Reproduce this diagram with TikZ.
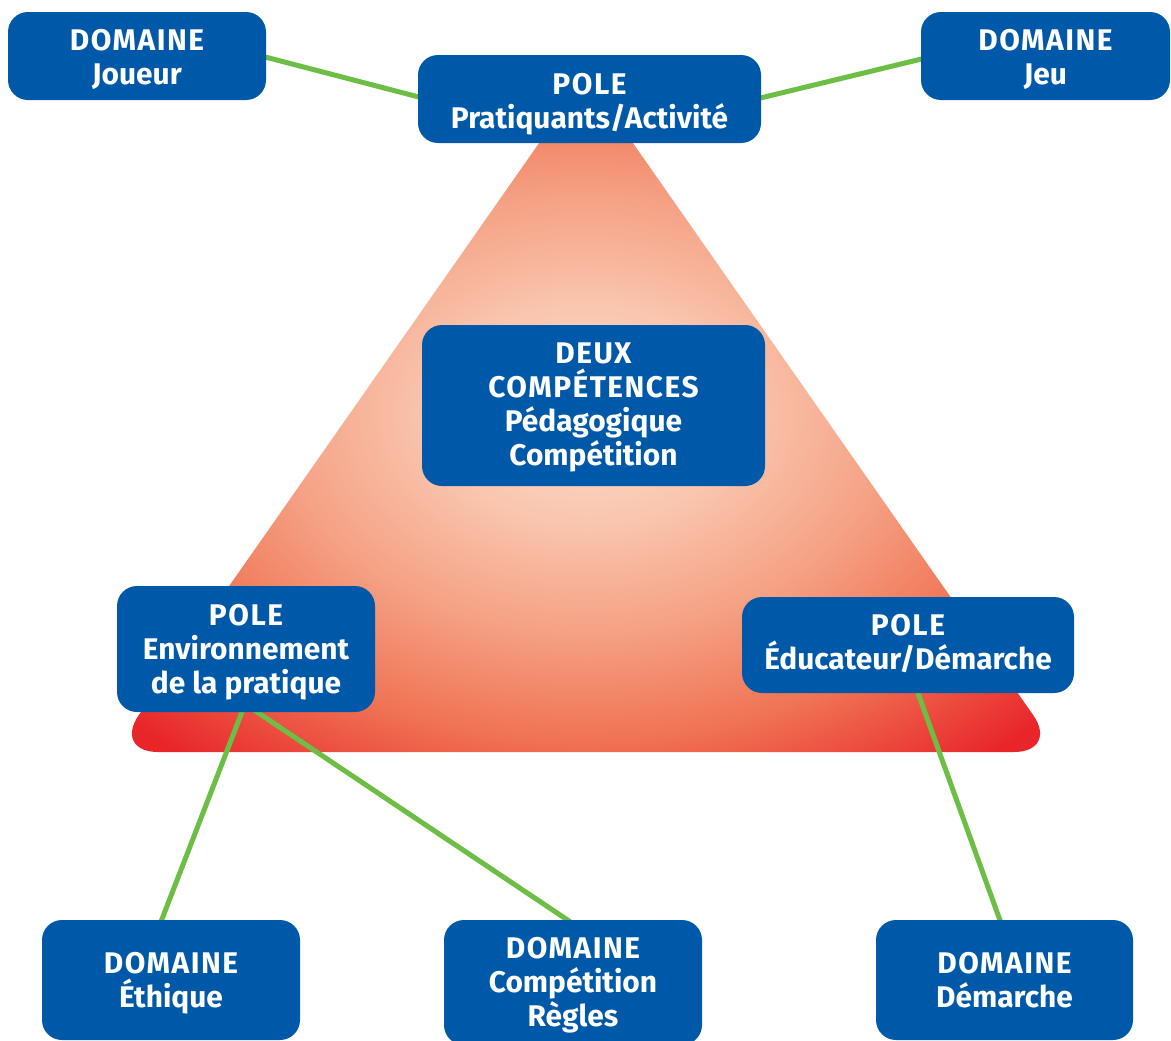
\documentclass[tikz,border=0pt]{standalone}
\usepackage{fontspec}
\setmainfont{Fira Sans}
\usetikzlibrary{calc}
\definecolor{boxblue}{HTML}{0059A8}
\definecolor{linkgreen}{HTML}{6CBE45}
\definecolor{tc0}{HTML}{FCDDCC}
\definecolor{tc1}{HTML}{F9C6AF}
\definecolor{tc2}{HTML}{F5A285}
\definecolor{tc3}{HTML}{F07455}
\definecolor{tc4}{HTML}{E8262A}
\pgfdeclareradialshading{trishade}{\pgfpoint{0bp}{0bp}}{color(0bp)=(tc0); color(8bp)=(tc1); color(16bp)=(tc2); color(24bp)=(tc3); color(33bp)=(tc4); color(50bp)=(tc4)}
\pgfdeclarelayer{trilayer}
\pgfdeclarelayer{linklayer}
\pgfsetlayers{trilayer,linklayer,main}
\newcommand\capsline[1]{{\addfontfeature{LetterSpace=5}#1}}
\tikzset{
  bx/.style 2 args={draw=none, fill=boxblue, rounded corners=0.4cm, inner sep=0pt,
    minimum width=#1*0.02cm, minimum height=#2*0.02cm},
  txt/.style={text=white, font=\bfseries\fontsize{17}{19.3}\selectfont,
    align=center, inner sep=0pt},
  link/.style={draw=linkgreen, line width=0.1cm}
}
\begin{document}
\begin{tikzpicture}[x=0.02cm, y=-0.02cm]
\useasboundingbox (0,0) rectangle (1171,1041);
% boxes
\node[bx={258}{88}] (joueur) at (137,56) {};
\node[bx={343}{88}] (prat) at (589.5,99) {};
\node[bx={249}{88}] (jeu) at (1045.5,56) {};
\node[bx={343}{161}] (deux) at (593.5,405.5) {};
\node[bx={258}{126}] (env) at (246,649) {};
\node[bx={332}{96}] (educ) at (908,645) {};
\node[bx={258}{120}] (eth) at (171,980) {};
\node[bx={258}{125}] (regles) at (573,982.5) {};
\node[bx={257}{120}] (dem) at (1004.5,980) {};
% texts
\node[txt] (joueurT) at ($(joueur)+(0,3)$) {\capsline{DOMAINE}\\Joueur};
\node[txt] (pratT) at ($(prat)+(0,5)$) {\capsline{POLE}\\Pratiquants/Activité};
\node[txt] (jeuT) at ($(jeu)+(0,3)$) {\capsline{DOMAINE}\\Jeu};
\node[txt] (deuxT) at ($(deux)+(0,2)$) {\capsline{DEUX}\\\capsline{COMPÉTENCES}\\Pédagogique\\Compétition};
\node[txt] (envT) at ($(env)+(0,3)$) {\capsline{POLE}\\Environnement\\de la pratique};
\node[txt] (educT) at ($(educ)+(0,-1.5)$) {\capsline{POLE}\\Éducateur/Démarche};
\node[txt] (ethT) at ($(eth)+(0,3)$) {\capsline{DOMAINE}\\Éthique};
\node[txt] (reglesT) at ($(regles)+(0,3)$) {\capsline{DOMAINE}\\Compétition\\Règles};
\node[txt] (demT) at (dem) {\capsline{DOMAINE}\\Démarche};
% triangle
\begin{pgfonlayer}{trilayer}
\path[shading=trishade, rounded corners=0.9cm] (586,76) -- (113,752) -- (1059,752) -- cycle;
\end{pgfonlayer}
% connectors
\begin{pgfonlayer}{linklayer}
\draw[link] ($(joueur.east)+(-5,0)$) -- ($(prat.west)+(5,-1)$);
\draw[link] ($(prat.east)+(-5,0)$) -- ($(jeu.west)+(5,2)$);
\draw[link] ($(env.south)+(-3,-3)$) -- ($(eth.north)+(-10,2)$);
\draw[link] ($(env.south)+(7,-3)$) -- ($(regles.north)+(-3,2)$);
\draw[link] ($(educ.south)+(9,-3)$) -- ($(dem.north)+(-4,2)$);
\end{pgfonlayer}
\end{tikzpicture}
\end{document}
